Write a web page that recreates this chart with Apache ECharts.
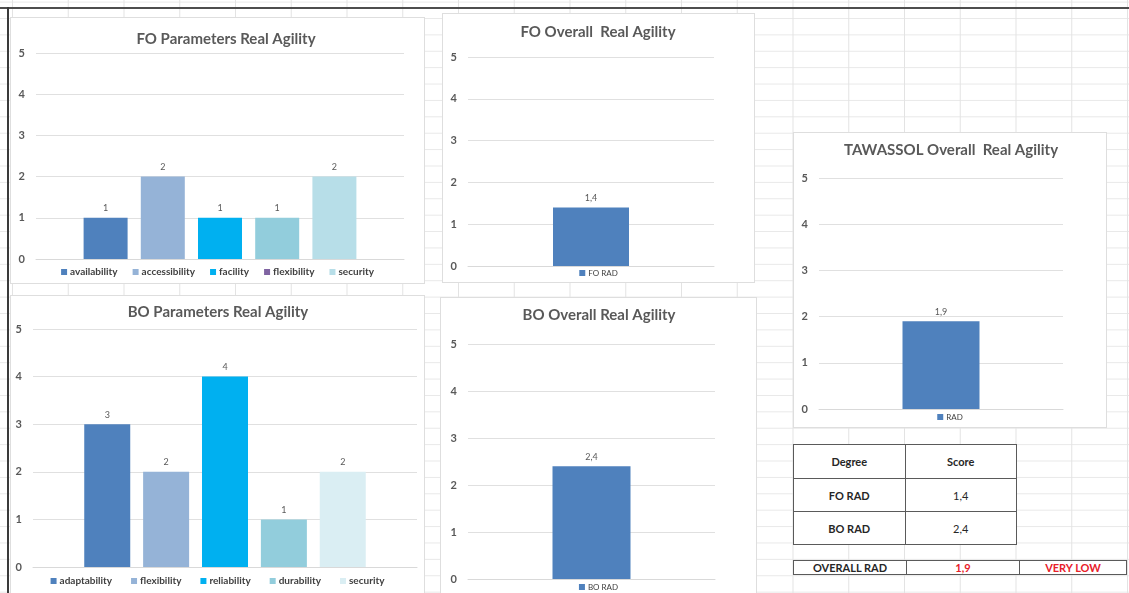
<!DOCTYPE html>
<html>
<head>
<meta charset="utf-8">
<script src="https://cdn.jsdelivr.net/npm/echarts@6/dist/echarts.min.js"></script>
<style>
  html, body {
    margin: 0;
    padding: 0;
  }
  body {
    width: 1129px;
    height: 593px;
    position: relative;
    overflow: hidden;
    background-color: #fff;
    background-image:
      linear-gradient(to right, #e3e3e3 1px, transparent 1px),
      linear-gradient(to bottom, #e8e8e8 1px, transparent 1px);
    background-size: 55.75px 100%, 100% 16.4px;
    background-position: 12px 0, 0 1.6px;
    font-family: Lato, "Liberation Sans", sans-serif;
  }
  .frame-top {
    position: absolute; left: 0; top: 7px; width: 1129px; height: 2px; background: #4d4d4d;
  }
  .frame-left {
    position: absolute; left: 7px; top: 7px; width: 2px; height: 586px; background: #3a3a3a;
  }
  .panel {
    position: absolute;
    background: #fff;
    box-sizing: border-box;
    border: 1px solid #dedede;
  }
  table.score {
    position: absolute;
    border-collapse: collapse;
    font-size: 11px;
    color: #262626;
    background: #fff;
  }
  table.score td {
    border: 1.5px solid #5a5a5a;
    text-align: center;
    padding: 0;
  }
  .b { font-weight: bold; }
  .red { color: #e8202a; font-weight: bold; }
</style>
</head>
<body>
<div class="frame-top"></div>
<div class="frame-left"></div>

<div id="foParams" class="panel" style="left:10px;top:17px;width:415px;height:267px"></div>
<div id="boParams" class="panel" style="left:10px;top:295px;width:415px;height:300px"></div>
<div id="foOverall" class="panel" style="left:442px;top:13px;width:313px;height:270px"></div>
<div id="boOverall" class="panel" style="left:440px;top:297px;width:317px;height:298px"></div>
<div id="tawassol" class="panel" style="left:793px;top:132px;width:314px;height:296px"></div>

<table id="degreeTable" class="score" style="left:793px;top:444px;width:224px"></table>
<table id="overallTable" class="score" style="left:793px;top:560px;width:334px"></table>

<script>
  // FO parameters
  const foParams = ['availability', 'accessibility', 'facility', 'flexibility', 'security']
  const foParamValues = [1, 2, 1, 1, 2]
  const foColors = ['#4f81bd', '#95b3d7', '#00b0f0', '#92cddc', '#b7dee8']

  // BO parameters
  const boParams = ['adaptability', 'flexibility', 'reliability', 'durability', 'security']
  const boParamValues = [3, 2, 4, 1, 2]
  const boColors = ['#4f81bd', '#95b3d7', '#00b0f0', '#92cddc', '#daeef3']

  // overall degrees
  const degreeNames = ['FO RAD', 'BO RAD']
  const degreeScores = [1.4, 2.4]
  const overallName = 'RAD'
  const overallScore = 1.9
  const overallRating = 'VERY LOW'

  const yMin = 0
  const yMax = 5
  const yStep = 1

  const textColor = '#595959'
  const fontFamily = 'Lato, "Liberation Sans", sans-serif'

  function fmt(v) {
    return String(v).replace('.', ',')
  }

  function drawChart(id, opts) {
    const chart = echarts.init(document.getElementById(id), null, { renderer: 'canvas' })
    const series = opts.names.map((name, i) => ({
      name: name,
      type: 'bar',
      data: [opts.values[i]],
      barWidth: opts.barWidth,
      barGap: opts.barGap || '30%',
      itemStyle: { color: opts.colors[i] },
      label: {
        show: true,
        position: 'top',
        distance: 5,
        fontSize: 9,
        color: textColor,
        fontFamily: fontFamily,
        formatter: p => fmt(p.value)
      },
      animation: false
    }))
    chart.setOption({
      textStyle: { fontFamily: fontFamily },
      title: {
        text: opts.title,
        left: opts.titleX,
        top: opts.titleTop,
        textAlign: 'center',
        padding: 0,
        textStyle: { fontSize: 15, fontWeight: 'bold', color: textColor, fontFamily: fontFamily }
      },
      grid: opts.grid,
      legend: {
        data: opts.legendData || opts.names,
        bottom: opts.legendBottom,
        left: opts.legendX,
        padding: 0,
        itemWidth: 6,
        itemHeight: 6,
        itemGap: opts.legendGap || 12,
        icon: 'rect',
        textStyle: {
          fontSize: opts.legendFont || 10,
          fontWeight: opts.legendBold ? 'bold' : 'normal',
          color: '#404040',
          fontFamily: fontFamily,
          padding: [0, 0, 0, -2]
        }
      },
      xAxis: {
        type: 'category',
        data: [''],
        axisLine: { lineStyle: { color: '#d9d9d9' } },
        axisTick: { show: false },
        axisLabel: { show: false }
      },
      yAxis: {
        type: 'value',
        min: yMin,
        max: yMax,
        interval: yStep,
        axisLine: { show: false },
        axisTick: { show: false },
        axisLabel: { fontSize: 11, fontWeight: 'bold', color: textColor, margin: 11, fontFamily: fontFamily },
        splitLine: { lineStyle: { color: '#e0e0e0' } }
      },
      series: series
    })
    return chart
  }

  const foLegend = foParams.map(n => n === 'flexibility'
    ? { name: n, itemStyle: { color: '#8064a2' } }
    : n)

  drawChart('foParams', {
    title: 'FO Parameters Real Agility',
    titleX: 215, titleTop: 14,
    names: foParams, values: foParamValues, colors: foColors, legendData: foLegend,
    barWidth: 44, barGap: '30%',
    grid: { left: 25, right: 20, top: 35, bottom: 24 },
    legendBottom: 6, legendX: 'center', legendGap: 15, legendBold: true
  })

  drawChart('boParams', {
    title: 'BO Parameters Real Agility',
    titleX: 207, titleTop: 9,
    names: boParams, values: boParamValues, colors: boColors,
    barWidth: 46, barGap: '28%',
    grid: { left: 22, right: 7, top: 33, bottom: 27 },
    legendBottom: 8, legendX: 'center', legendGap: 19, legendBold: true
  })

  drawChart('foOverall', {
    title: 'FO Overall  Real Agility',
    titleX: 155, titleTop: 11,
    names: [degreeNames[0]], values: [degreeScores[0]], colors: ['#4f81bd'],
    barWidth: 76,
    grid: { left: 25, right: 40, top: 43, bottom: 16 },
    legendBottom: 5, legendX: 'center', legendFont: 8
  })

  drawChart('boOverall', {
    title: 'BO Overall Real Agility',
    titleX: 158, titleTop: 10,
    names: [degreeNames[1]], values: [degreeScores[1]], colors: ['#4f81bd'],
    barWidth: 78,
    grid: { left: 27, right: 41, top: 46, bottom: 15 },
    legendBottom: 3, legendX: 'center', legendFont: 8
  })

  drawChart('tawassol', {
    title: 'TAWASSOL Overall  Real Agility',
    titleX: 157, titleTop: 10,
    names: [overallName], values: [overallScore], colors: ['#4f81bd'],
    barWidth: 77,
    grid: { left: 25, right: 43, top: 45, bottom: 18 },
    legendBottom: 6, legendX: 'center', legendFont: 8
  })

  // score table
  const degreeTable = document.getElementById('degreeTable')
  let rows = '<tr style="height:34px"><td class="b" style="width:50%">Degree</td><td class="b">Score</td></tr>'
  degreeNames.forEach((n, i) => {
    rows += '<tr style="height:33px"><td class="b">' + n + '</td><td>' + fmt(degreeScores[i]) + '</td></tr>'
  })
  degreeTable.innerHTML = rows

  const overallTable = document.getElementById('overallTable')
  overallTable.innerHTML = '<tr style="height:14px"><td class="b" style="width:112px">OVERALL ' + overallName +
    '</td><td class="red" style="width:112px">' + fmt(overallScore) +
    '</td><td class="red">' + overallRating + '</td></tr>'
</script>
</body>
</html>
